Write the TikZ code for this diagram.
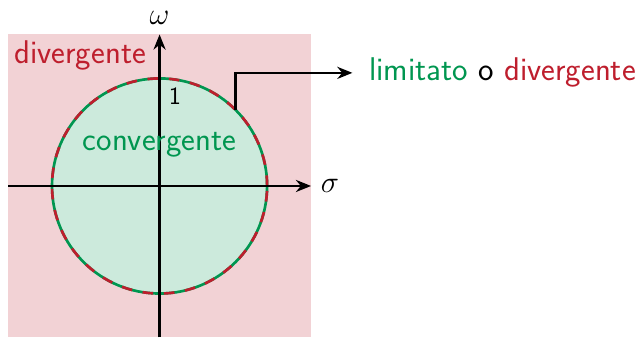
\documentclass[tikz,border=0pt]{standalone}
\usepackage{amsmath}
\usepackage{xcolor}
\usepackage{fontspec}
\usetikzlibrary{arrows.meta, positioning}
\definecolor{divred}{RGB}{190,30,45}
\definecolor{convgreen}{RGB}{0,150,80}
\tikzset{
  region label/.style={font=\sffamily\fontsize{18.5}{22}\selectfont},
  axis/.style={line width=1.3pt, -{Stealth[length=3mm, width=2.4mm]}},
}
\begin{document}
\begin{tikzpicture}[>=Stealth, font=\fontsize{18.5}{22}\selectfont]
  \useasboundingbox (-3.16,-3) rectangle (9.455,3.683);
  % ── Regions: divergent square, convergent disc ─────────────────
  \fill[divred!20] (-3,-3) rectangle (3,3);
  \fill[convgreen!20] (0,0) circle (2.13);
  % ── Unit circle (green with red dashes) ───────────────────────
  \draw[convgreen, line width=1.5pt] (0,0) circle (2.13);
  \draw[divred, line width=1.5pt, dash pattern=on 6pt off 6pt] (0,0) circle (2.13);
  % ── Axes ──────────────────────────────────────────────────────
  \coordinate (xl) at (-3,0);
  \coordinate (xr) at (3,0);
  \coordinate (yb) at (0,-3);
  \coordinate (yt) at (0,3);
  \draw[axis] (xl) -- (xr);
  \draw[axis] (yb) -- (yt);
  \node[right=2pt of xr] (sigma) {$\sigma$};
  \node[above=2pt of yt] (omega) {$\omega$};
  \node[font=\sffamily\fontsize{14}{16}\selectfont, anchor=north west] (one) at (0.06,2.08) {1};
  % ── Region labels ─────────────────────────────────────────────
  \node[region label, text=divred, anchor=north west] (div) at (-3,3) {divergente};
  \node[region label, text=convgreen] (conv) at (0,0.81) {convergente};
  % ── Boundary callout ──────────────────────────────────────────
  \coordinate (edge) at (45:2.13);
  \node[region label, anchor=west] (bound) at (4.03,2.24)
    {\textcolor{convgreen}{limitato} o \textcolor{divred}{divergente}};
  \draw[line width=1.3pt, -{Stealth[length=3mm, width=2.4mm]}] (edge) |- ([xshift=-6pt]bound.west);
\end{tikzpicture}
\end{document}
